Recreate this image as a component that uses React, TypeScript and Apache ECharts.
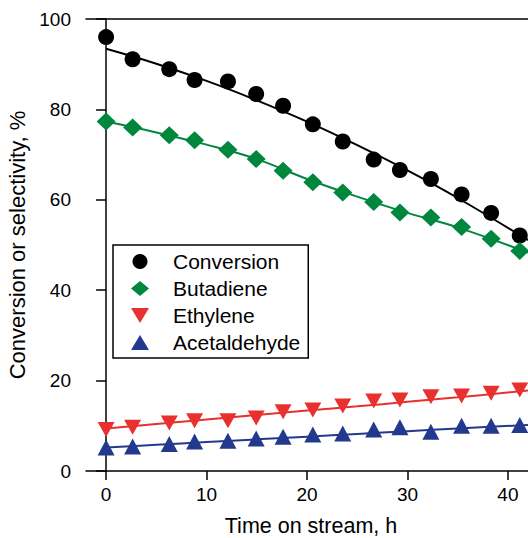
import React, { useEffect, useRef } from "react";
import * as echarts from "echarts";

// Time on stream, h (shared by all measured series)
const timeH = [0, 2.64, 6.29, 8.81, 12.13, 14.94, 17.62, 20.58, 23.56, 26.64, 29.25, 32.33, 35.39, 38.33, 41.18];
const conversion = [96.0, 91.1, 88.9, 86.5, 86.2, 83.4, 80.8, 76.7, 72.9, 68.9, 66.6, 64.6, 61.2, 57.1, 52.1];
const butadiene = [77.3, 76.0, 74.3, 73.2, 71.1, 69.0, 66.4, 63.9, 61.6, 59.5, 57.2, 56.1, 54.0, 51.4, 48.7];
const ethylene = [9.2, 9.7, 10.6, 11.1, 11.1, 11.7, 13.1, 13.5, 14.4, 15.5, 15.7, 16.4, 16.6, 17.2, 17.9];
const acetaldehyde = [5.2, 5.4, 6.0, 6.5, 6.7, 7.2, 7.6, 8.1, 8.3, 9.2, 9.7, 8.7, 10.0, 10.0, 10.2];

// Fitted trend lines
const fitX = [0, 5, 10, 15, 20, 25, 30, 35, 42];
const conversionFit = [93.4, 90.1, 86.3, 82.0, 77.3, 72.1, 66.5, 60.4, 51.1];
const butadieneFit = [77.3, 74.9, 72.2, 69.0, 64.6, 60.7, 57.1, 53.9, 48.3];
const ethyleneFit = [9.4, 10.4, 11.4, 12.4, 13.4, 14.3, 15.3, 16.3, 17.8];
const acetaldehydeFit = [5.2, 5.8, 6.4, 7.0, 7.6, 8.2, 8.8, 9.4, 10.2];

const xTicks = [0, 10, 20, 30, 40];
const names = ["Conversion", "Butadiene", "Ethylene", "Acetaldehyde"];

const BLACK = "#000000";
const GREEN = "#00873E";
const RED = "#E8312F";
const BLUE = "#22398E";
const FONT = "'Liberation Sans', Arial, sans-serif";
const DOWN_TRI = "path://M0,0L18,0L9,15Z";

const pair = (xs: number[], ys: number[]) => xs.map((x, i) => [x, ys[i]]);

export default function App() {
  const ref = useRef<HTMLDivElement>(null);
  useEffect(() => {
    if (!ref.current) return;
    const chart = echarts.init(ref.current, null, { renderer: "svg" });
    const scatter = (name: string, ys: number[], color: string, symbol: string, size: any) => ({
      type: "scatter",
      name,
      data: pair(timeH, ys),
      symbol,
      symbolSize: size,
      clip: false,
      itemStyle: { color, opacity: 1 },
      z: 3,
    });
    const fit = (name: string, ys: number[], color: string) => ({
      type: "line",
      name,
      data: pair(fitX, ys),
      smooth: 0.4,
      showSymbol: false,
      silent: true,
      lineStyle: { color, width: 2 },
      z: 2,
    });
    chart.setOption({
      animation: false,
      backgroundColor: "#ffffff",
      textStyle: { fontFamily: FONT },
      grid: {
        left: 86,
        top: 19,
        right: 0,
        bottom: 67,
        containLabel: false,
        outerBoundsMode: "none",
      },
      xAxis: [
        {
          type: "value",
          min: -2,
          max: 42,
          name: "Time on stream, h",
          nameLocation: "middle",
          nameGap: 47,
          nameTextStyle: { fontSize: 21.5, lineHeight: 16, color: BLACK, fontFamily: FONT, padding: [0, 0, 0, 8] },
          axisLine: { show: true, onZero: false, lineStyle: { color: BLACK, width: 1.5 } },
          axisTick: { show: true, inside: false, length: 9, customValues: xTicks, lineStyle: { color: BLACK, width: 1.5 } },
          axisLabel: { customValues: xTicks, fontSize: 19, color: BLACK, margin: 14, fontFamily: FONT },
          splitLine: { show: false },
        },
        {
          type: "value",
          position: "top",
          min: -2,
          max: 42,
          axisLine: { show: true, onZero: false, lineStyle: { color: BLACK, width: 1.5 } },
          axisTick: { show: false },
          axisLabel: { show: false },
          splitLine: { show: false },
        },
      ],
      yAxis: {
        type: "value",
        min: 0,
        max: 100,
        interval: 20,
        name: "Conversion or selectivity, %",
        nameLocation: "middle",
        nameGap: 52,
        nameTextStyle: { fontSize: 22, color: BLACK, fontFamily: FONT },
        axisLine: { show: true, lineStyle: { color: BLACK, width: 1.5 } },
        axisTick: { show: true, inside: false, length: 10, lineStyle: { color: BLACK, width: 1.5 } },
        axisLabel: { fontSize: 19, color: BLACK, margin: 15, fontFamily: FONT },
        splitLine: { show: false },
      },
      legend: {
        orient: "vertical",
        left: 113,
        top: 245,
        padding: [6, 8, 5, 18],
        itemWidth: 18,
        itemHeight: 15,
        itemGap: 6,
        borderColor: BLACK,
        borderWidth: 1.5,
        borderRadius: 0,
        textStyle: { fontSize: 21, lineHeight: 21, color: BLACK, fontFamily: FONT, padding: [0, 0, 0, 19] },
        data: [
          { name: names[0], icon: "circle" },
          { name: names[1], icon: "diamond" },
          { name: names[2], icon: DOWN_TRI },
          { name: names[3], icon: "triangle" },
        ],
        selectedMode: false,
      },
      series: [
        fit("Conversion fit", conversionFit, BLACK),
        fit("Butadiene fit", butadieneFit, GREEN),
        fit("Ethylene fit", ethyleneFit, RED),
        fit("Acetaldehyde fit", acetaldehydeFit, BLUE),
        scatter(names[0], conversion, BLACK, "circle", 16),
        scatter(names[1], butadiene, GREEN, "diamond", [19, 18]),
        scatter(names[2], ethylene, RED, DOWN_TRI, [17, 15]),
        scatter(names[3], acetaldehyde, BLUE, "triangle", [17, 16]),
      ],
    });
    return () => chart.dispose();
  }, []);
  return (
    <div
      ref={ref}
      style={{ position: "absolute", left: 0, top: 0, width: 528, height: 538 }}
    />
  );
}
